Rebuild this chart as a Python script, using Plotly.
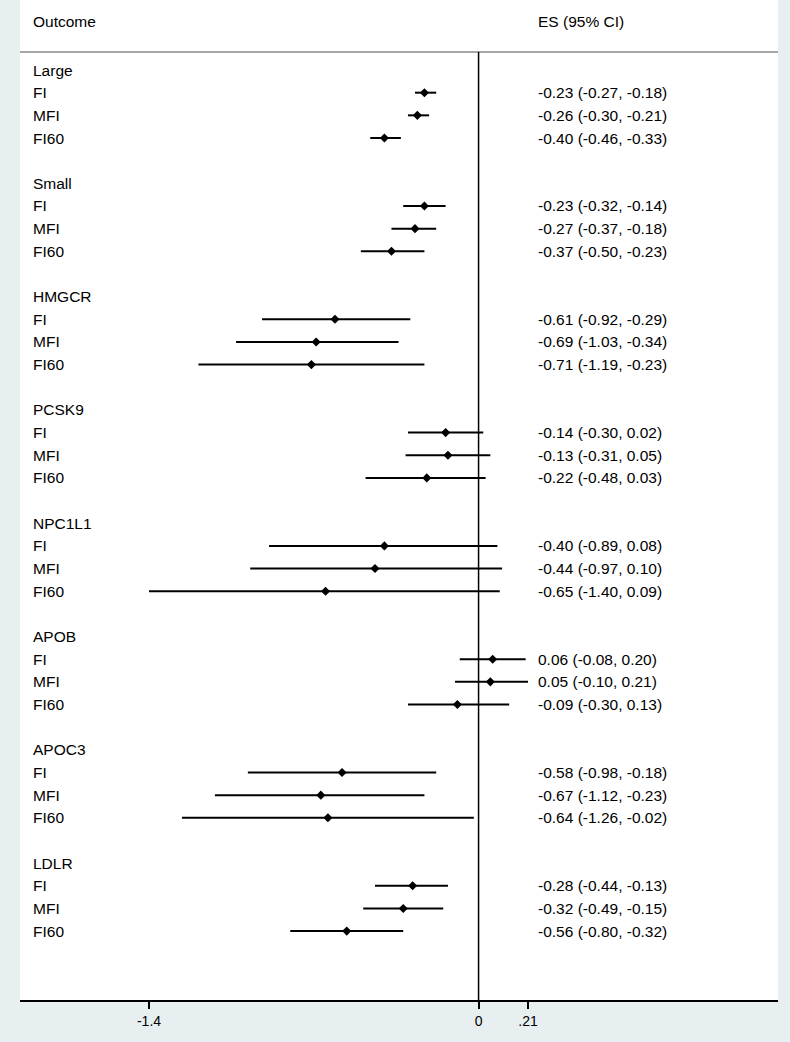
import plotly.graph_objects as go

groups = ['Large', 'Small', 'HMGCR', 'PCSK9', 'NPC1L1', 'APOB', 'APOC3', 'LDLR']
measures = ['FI', 'MFI', 'FI60']

es = [-0.23, -0.26, -0.40,
      -0.23, -0.27, -0.37,
      -0.61, -0.69, -0.71,
      -0.14, -0.13, -0.22,
      -0.40, -0.44, -0.65,
      0.06, 0.05, -0.09,
      -0.58, -0.67, -0.64,
      -0.28, -0.32, -0.56]
lo = [-0.27, -0.30, -0.46,
      -0.32, -0.37, -0.50,
      -0.92, -1.03, -1.19,
      -0.30, -0.31, -0.48,
      -0.89, -0.97, -1.40,
      -0.08, -0.10, -0.30,
      -0.98, -1.12, -1.26,
      -0.44, -0.49, -0.80]
hi = [-0.18, -0.21, -0.33,
      -0.14, -0.18, -0.23,
      -0.29, -0.34, -0.23,
      0.02, 0.05, 0.03,
      0.08, 0.10, 0.09,
      0.20, 0.21, 0.13,
      -0.18, -0.23, -0.02,
      -0.13, -0.15, -0.32]

tick_vals = [-1.4, 0, 0.21]
tick_text = ['-1.4', '0', '.21']

FONT = 'Liberation Sans, Arial, sans-serif'
BG = '#e8eff0'

# row layout: group header, 3 estimates, blank row
rows = []
for g_i, g in enumerate(groups):
    base = g_i * 5
    for m_i, m in enumerate(measures):
        rows.append(base + 1 + m_i)

line_x, line_y = [], []
for r, a, b in zip(rows, lo, hi):
    line_x += [a, b, None]
    line_y += [r, r, None]

fig = go.Figure()
fig.add_trace(go.Scatter(x=line_x, y=line_y, mode='lines',
                         line=dict(color='black', width=2), hoverinfo='skip'))
fig.add_trace(go.Scatter(x=es, y=rows, mode='markers',
                         marker=dict(symbol='diamond', size=7, color='black')))

# left labels
for g_i, g in enumerate(groups):
    base = g_i * 5
    fig.add_annotation(x=0.0145, xref='paper', y=base, yref='y', text=g,
                       showarrow=False, xanchor='left', yanchor='middle')
    for m_i, m in enumerate(measures):
        fig.add_annotation(x=0.0145, xref='paper', y=base + 1 + m_i, yref='y',
                           text=m, showarrow=False, xanchor='left', yanchor='middle')

# ES text
for r, e, a, b in zip(rows, es, lo, hi):
    fig.add_annotation(x=0.681, xref='paper', y=r, yref='y',
                       text='%.2f (%.2f, %.2f)' % (e, a, b),
                       showarrow=False, xanchor='left', yanchor='middle')

fig.add_annotation(x=0.0145, xref='paper', y=-2.12, yref='y', text='Outcome',
                   showarrow=False, xanchor='left', yanchor='middle')
fig.add_annotation(x=0.681, xref='paper', y=-2.12, yref='y', text='ES (95% CI)',
                   showarrow=False, xanchor='left', yanchor='middle')

fig.add_shape(type='line', xref='paper', x0=0, x1=1, yref='y', y0=-0.79, y1=-0.79,
              line=dict(color='#a6a6a6', width=2))
fig.add_shape(type='line', xref='x', x0=0, x1=0, yref='y', y0=-0.79, y1=41.04,
              line=dict(color='black', width=1.5))

fig.update_layout(
    width=790, height=1042,
    margin=dict(l=20, r=12, t=0, b=42),
    paper_bgcolor=BG, plot_bgcolor='white',
    showlegend=False,
    font=dict(family=FONT, size=15.5, color='black'),
    xaxis=dict(range=[-1.948, 1.272], tickvals=tick_vals, ticktext=tick_text,
               showgrid=False, zeroline=False, showline=True, linecolor='black',
               linewidth=2, ticks='outside', ticklen=7, tickwidth=1.5,
               tickcolor='black', tickfont=dict(size=14)),
    yaxis=dict(range=[41.04, -3.09], visible=False, showgrid=False),
)

fig.write_html('out.html', config={'displayModeBar': False},
               post_script="document.body.style.margin='0';"
                           "document.body.style.background='%s';" % BG)
